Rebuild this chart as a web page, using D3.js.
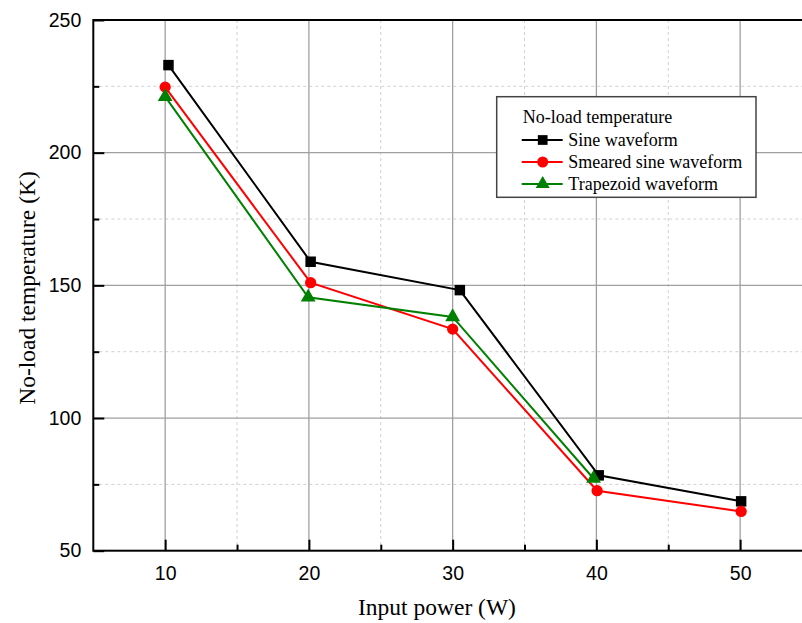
<!DOCTYPE html>
<html>
<head>
<meta charset="utf-8">
<script src="https://cdn.jsdelivr.net/npm/d3@7"></script>
<style>
  body { margin: 0; background: #fff; }
  svg { display: block; }
  .tick text { font-family: "Liberation Sans", Arial, sans-serif; font-size: 19.5px; fill: #000; }
  .axis path, .axis line { stroke: #000; stroke-width: 2; }
  .title { font-family: "Liberation Serif", "Times New Roman", serif; font-size: 23.5px; fill: #000; }
  .legend text { font-family: "Liberation Serif", "Times New Roman", serif; font-size: 18px; fill: #000; }
</style>
</head>
<body>
<svg id="chart" width="802" height="623"></svg>
<script>
// values (x slightly shifted per series as in the original)
var sineX = [10.23, 20.12, 30.5, 40.16, 50.07];
var sineY = [233.0, 158.9, 148.2, 78.4, 68.6];
var smearX = [10.0, 20.12, 30.0, 40.05, 50.07];
var smearY = [224.7, 151.0, 133.5, 72.6, 64.8];
var trapX = [10.0, 19.95, 30.0, 39.8];
var trapY = [221.1, 145.5, 138.1, 77.2];

var xMajor = [10, 20, 30, 40, 50];
var xMinor = [15, 25, 35, 45];
var yMajor = [50, 100, 150, 200, 250];
var yMinor = [75, 125, 175, 225];

var series = [
  { name: "Sine waveform", xs: sineX, ys: sineY, color: "#000000", shape: d3.symbolSquare },
  { name: "Smeared sine waveform", xs: smearX, ys: smearY, color: "#ff0000", shape: d3.symbolCircle },
  { name: "Trapezoid waveform", xs: trapX, ys: trapY, color: "#008000", shape: d3.symbolTriangle }
];

var pLeft = 93.3, pTop = 20, pRight = 812, pBottom = 550.7;

var svg = d3.select("#chart");

var x = d3.scaleLinear().domain([5, 55]).range([pLeft, pRight]);
var y = d3.scaleLinear().domain([50, 250]).range([pBottom, pTop]);

// grid
var grid = svg.append("g");
grid.selectAll(".vmin").data(xMinor).enter().append("line")
  .attr("x1", d => x(d)).attr("x2", d => x(d)).attr("y1", pTop).attr("y2", pBottom)
  .attr("stroke", "#d0d0d0").attr("stroke-width", 1).attr("stroke-dasharray", "3,3");
grid.selectAll(".hmin").data(yMinor).enter().append("line")
  .attr("x1", pLeft).attr("x2", pRight).attr("y1", d => y(d)).attr("y2", d => y(d))
  .attr("stroke", "#d0d0d0").attr("stroke-width", 1).attr("stroke-dasharray", "3,3");
grid.selectAll(".vmaj").data(xMajor).enter().append("line")
  .attr("x1", d => x(d)).attr("x2", d => x(d)).attr("y1", pTop).attr("y2", pBottom)
  .attr("stroke", "#a0a0a0").attr("stroke-width", 1.3);
grid.selectAll(".hmaj").data(yMajor.slice(1, 4)).enter().append("line")
  .attr("x1", pLeft).attr("x2", pRight).attr("y1", d => y(d)).attr("y2", d => y(d))
  .attr("stroke", "#a0a0a0").attr("stroke-width", 1.3);

// frame
svg.append("rect")
  .attr("x", pLeft).attr("y", pTop).attr("width", pRight - pLeft).attr("height", pBottom - pTop)
  .attr("fill", "none").attr("stroke", "#000").attr("stroke-width", 2);

// axes, ticks pointing inward
svg.append("g").attr("class", "axis")
  .attr("transform", "translate(0," + pBottom + ")")
  .call(d3.axisBottom(x).tickValues(xMajor).tickSizeInner(-11).tickSizeOuter(0).tickPadding(15))
  .select(".domain").remove();
svg.append("g").attr("class", "axis")
  .attr("transform", "translate(0," + pBottom + ")")
  .call(d3.axisBottom(x).tickValues(xMinor).tickSizeInner(-6).tickSizeOuter(0).tickFormat(""))
  .select(".domain").remove();
svg.append("g").attr("class", "axis")
  .attr("transform", "translate(" + pLeft + ",0)")
  .call(d3.axisLeft(y).tickValues(yMajor).tickSizeInner(-11).tickSizeOuter(0).tickPadding(12))
  .select(".domain").remove();
svg.append("g").attr("class", "axis")
  .attr("transform", "translate(" + pLeft + ",0)")
  .call(d3.axisLeft(y).tickValues(yMinor).tickSizeInner(-6).tickSizeOuter(0).tickFormat(""))
  .select(".domain").remove();

// axis titles
svg.append("text").attr("class", "title")
  .attr("x", 437).attr("y", 615).attr("text-anchor", "middle")
  .text("Input power (W)");
svg.append("text").attr("class", "title")
  .attr("transform", "translate(35,288) rotate(-90)").attr("text-anchor", "middle")
  .text("No-load temperature (K)");

// lines and markers
var line = d3.line().x(d => x(d[0])).y(d => y(d[1]));
series.forEach(function (s) {
  var pts = s.xs.map((v, i) => [v, s.ys[i]]);
  svg.append("path").datum(pts)
    .attr("d", line).attr("fill", "none")
    .attr("stroke", s.color).attr("stroke-width", 2);
});
series.forEach(function (s) {
  var pts = s.xs.map((v, i) => [v, s.ys[i]]);
  var size = s.shape === d3.symbolTriangle ? 95 : (s.shape === d3.symbolSquare ? 110 : 100);
  svg.selectAll(null).data(pts).enter().append("path")
    .attr("d", d3.symbol().type(s.shape).size(size))
    .attr("transform", d => "translate(" + x(d[0]) + "," + y(d[1]) + ")")
    .attr("fill", s.color);
});

// legend
var lg = svg.append("g").attr("class", "legend");
lg.append("rect")
  .attr("x", 496.7).attr("y", 96.7).attr("width", 259.3).attr("height", 100.6)
  .attr("fill", "#fff").attr("stroke", "#444").attr("stroke-width", 1.5);
lg.append("text").attr("x", 522.7).attr("y", 123).text("No-load temperature");
series.forEach(function (s, i) {
  var ly = 140 + i * 22;
  lg.append("line").attr("x1", 521.7).attr("x2", 562.7).attr("y1", ly).attr("y2", ly)
    .attr("stroke", s.color).attr("stroke-width", 2);
  lg.append("path")
    .attr("d", d3.symbol().type(s.shape).size(s.shape === d3.symbolTriangle ? 85 : 95))
    .attr("transform", "translate(542.7," + ly + ")")
    .attr("fill", s.color);
  lg.append("text").attr("x", 568.3).attr("y", ly + 6).text(s.name);
});
</script>
</body>
</html>
